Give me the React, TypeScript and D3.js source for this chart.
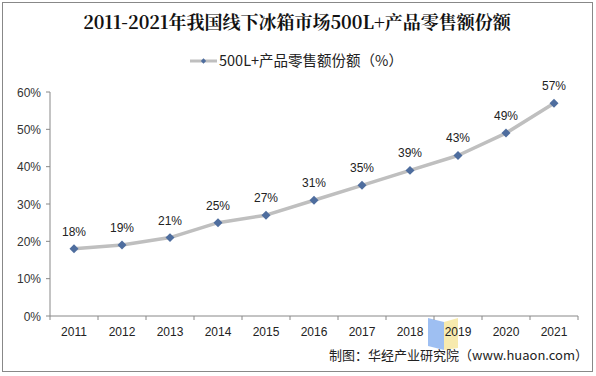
import React from "react";
import * as d3 from "d3";

const years = ["2011","2012","2013","2014","2015","2016","2017","2018","2019","2020","2021"];
const shares = [18,19,21,25,27,31,35,39,43,49,57];
const yTicks = [0,10,20,30,40,50,60];
const title = "2011-2021年我国线下冰箱市场500L+产品零售额份额";
const legendLabel = "500L+产品零售额份额（%）";
const source = "制图：华经产业研究院（www.huaon.com）";

export default function App() {
  const W = 596, H = 376;
  const left = 50, right = 578, top = 92, bottom = 316;
  const x = d3.scaleBand<string>().domain(years).range([left, right]);
  const y = d3.scaleLinear().domain([0, 60]).range([bottom, top]);
  const line = d3.line<number>()
    .x((_, i) => (x(years[i]) as number) + x.bandwidth() / 2)
    .y(d => y(d));
  const diamond = d3.symbol().type(d3.symbolSquare).size(40)();
  const smallDiamond = d3.symbol().type(d3.symbolSquare).size(14)();
  const font = "'Liberation Sans', Arial, sans-serif";
  const cjk = "'Noto Sans CJK SC', 'Liberation Sans', sans-serif";
  return (
    <svg width={W} height={H} style={{ position: "absolute", left: 0, top: 0 }}>
      <rect x={0} y={0} width={W} height={H} fill="#fff" />
      <rect x={2.5} y={2.5} width={590} height={369} fill="none" stroke="#888" strokeWidth={1} />
      <text x={297} y={29} textAnchor="middle" fontFamily="'Noto Serif CJK SC', 'DejaVu Serif', serif" fontWeight="bold" fontSize={18} fill="#111">{title}</text>
      <line x1={190} x2={217} y1={61} y2={61} stroke="#BFBFBF" strokeWidth={3} />
      <path d={smallDiamond} transform="translate(203.5,61) rotate(45)" fill="#4E6D9E" />
      <text x={219} y={66} fontFamily={cjk} fontSize={14.5} fill="#222">{legendLabel}</text>
      {/* watermark shapes */}
      <path d="M428,318 L444,322 L444,350 L428,346 Z" fill="#8DB4F0" opacity={0.85} />
      <path d="M444,322 L458,318 L458,348 L444,350 Z" fill="#F6E6A0" opacity={0.85} />
      {/* y axis */}
      <line x1={left} x2={left} y1={top} y2={bottom} stroke="#888" />
      {yTicks.map(t => (
        <g key={t}>
          <line x1={left - 4} x2={left} y1={y(t)} y2={y(t)} stroke="#888" />
          <text x={41} y={y(t) + 4.5} textAnchor="end" fontFamily={font} fontSize={12} fill="#333">{t}%</text>
        </g>
      ))}
      {/* x axis */}
      <line x1={left} x2={right} y1={bottom} y2={bottom} stroke="#888" />
      {years.map((yr) => (
        <g key={yr}>
          <line x1={(x(yr) as number)} x2={(x(yr) as number)} y1={bottom} y2={bottom + 4} stroke="#888" />
          <text x={(x(yr) as number) + x.bandwidth() / 2} y={336} textAnchor="middle" fontFamily={font} fontSize={12} fill="#222">{yr}</text>
        </g>
      ))}
      <line x1={right} x2={right} y1={bottom} y2={bottom + 4} stroke="#888" />
      <path d={line(shares) || ""} fill="none" stroke="#BFBFBF" strokeWidth={3.5} strokeLinejoin="round" />
      {shares.map((v, i) => {
        const cx = (x(years[i]) as number) + x.bandwidth() / 2;
        return (
          <g key={i}>
            <path d={diamond} transform={`translate(${cx},${y(v)}) rotate(45)`} fill="#4E6D9E" />
            <text x={cx} y={y(v) - 13} textAnchor="middle" fontFamily={font} fontSize={12} fill="#222">{v}%</text>
          </g>
        );
      })}
      <text x={588} y={360} textAnchor="end" fontFamily={cjk} fontSize={13} fill="#222">{source}</text>
    </svg>
  );
}
